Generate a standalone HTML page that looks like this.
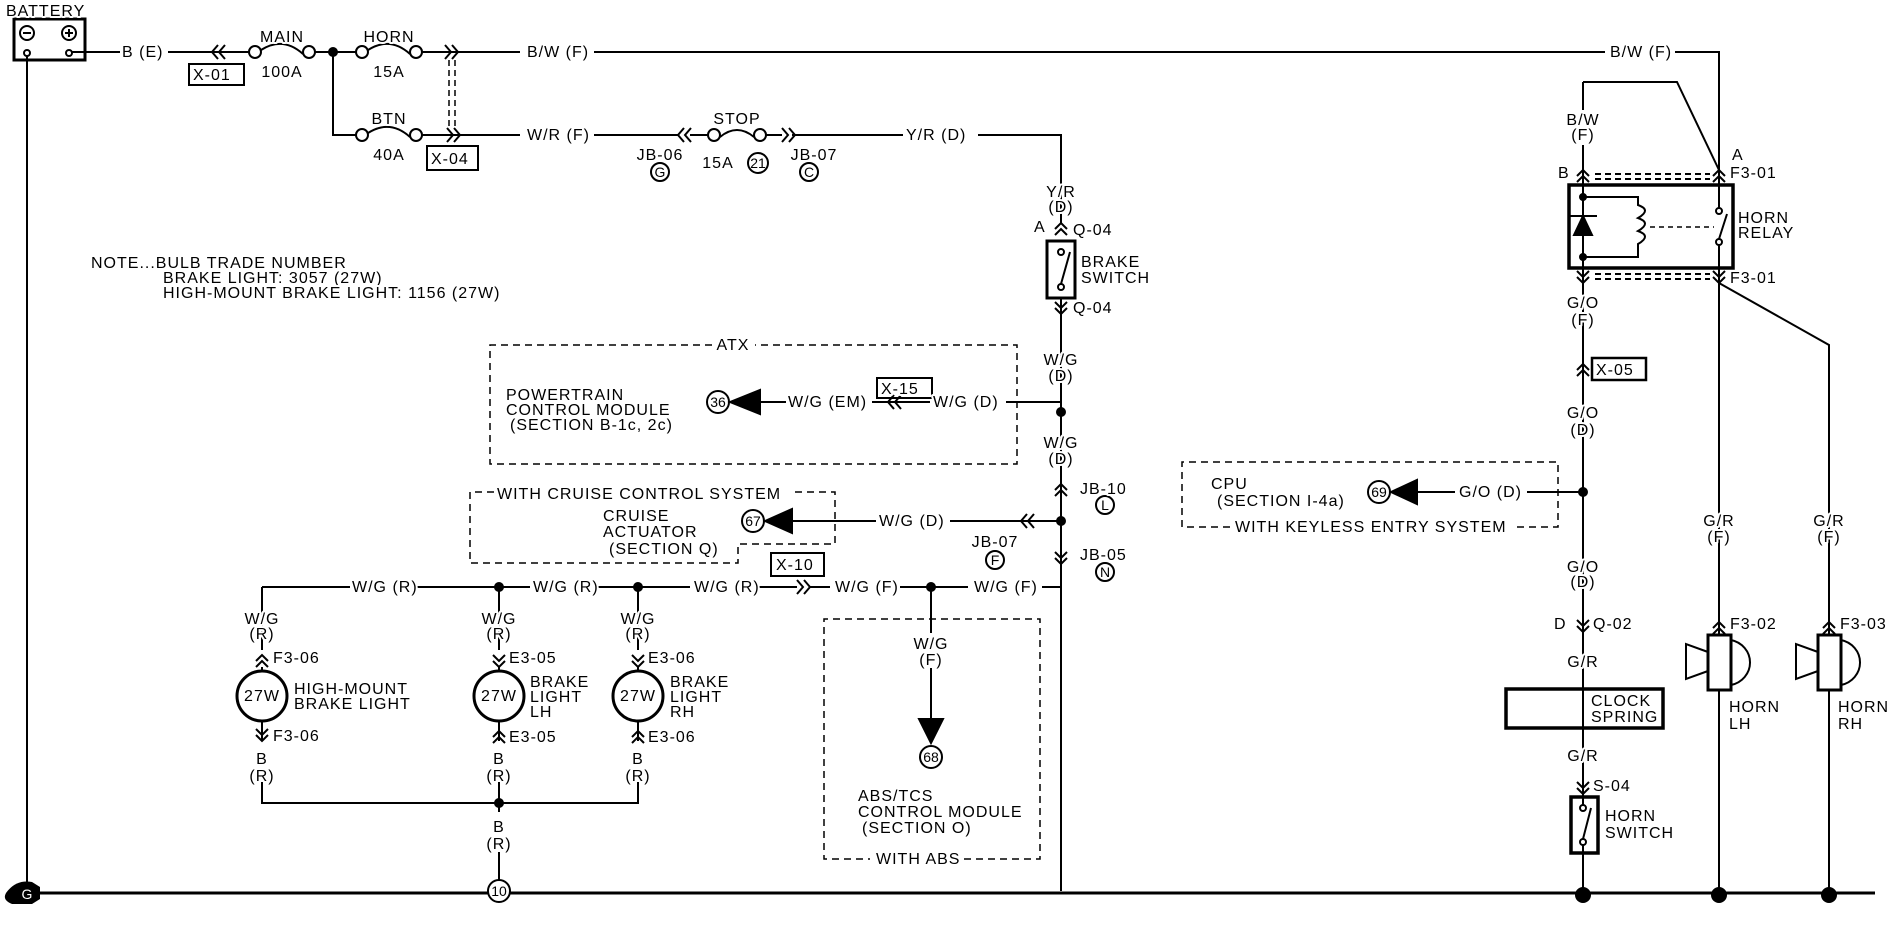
<!DOCTYPE html>
<html><head><meta charset="utf-8"><style>
html,body{margin:0;padding:0;background:#fff;}
svg{display:block;}
text{font-family:"Liberation Sans",sans-serif;font-size:16px;letter-spacing:1px;fill:#000;stroke:#fff;stroke-width:4px;paint-order:stroke;stroke-linejoin:round;}
.m{text-anchor:middle;}
.s{font-size:14px;letter-spacing:0;text-anchor:middle;stroke:none;}
</style></head><body>
<svg width="1898" height="928" viewBox="0 0 1898 928" xmlns="http://www.w3.org/2000/svg">
<g stroke="#000" stroke-width="2" fill="none">
<!-- battery -->
<rect x="14" y="19" width="71" height="41" stroke-width="3"/>
<circle cx="27" cy="33" r="7"/><circle cx="69" cy="33" r="7"/>
<circle cx="27" cy="53" r="3"/><circle cx="69" cy="53" r="3"/>
<path d="M23 33h8M65 33h8M69 29v8"/>
<path d="M27 56V893"/>
<path d="M27 893H1875" stroke-width="3"/>
<!-- top wire -->
<path d="M72 52H120M168 52H249M315 52H356M422 52H520M594 52H1605M1675 52H1719V893"/>
<path d="M218 45l-6 7 6 7M225 45l-6 7 6 7"/>
<rect x="189" y="64" width="55" height="21"/>
<circle cx="255" cy="52" r="6"/><circle cx="309" cy="52" r="6"/>
<path d="M261 50q22-14 42 4"/>
<circle cx="362" cy="52" r="6"/><circle cx="416" cy="52" r="6"/>
<path d="M368 50q22-14 42 4"/>
<circle cx="333" cy="52" r="4" fill="#000"/>
<path d="M445 45l6 7-6 7M452 45l6 7-6 7"/>
<path d="M449 60v70M455 60v70" stroke-dasharray="6,4" stroke-width="1.5"/>
<!-- branch -->
<path d="M333 52V135H356M422 135H520M594 135H678M690 135H708M766 135H782M792 135H903"/>
<circle cx="362" cy="135" r="6"/><circle cx="416" cy="135" r="6"/>
<path d="M368 133q22-14 42 4"/>
<path d="M447 128l6 7-6 7M454 128l6 7-6 7"/>
<rect x="427" y="146" width="51" height="24"/>
<path d="M684 128l-6 7 6 7M691 128l-6 7 6 7"/>
<circle cx="714" cy="135" r="6"/><circle cx="760" cy="135" r="6"/>
<path d="M720 137q17-14 34 0"/>
<path d="M782 128l6 7-6 7M789 128l6 7-6 7"/>
<circle cx="660" cy="172" r="9"/><circle cx="758" cy="163" r="10"/><circle cx="809" cy="172" r="9"/>
<path d="M978 135H1061V224M1061 298V891"/>
<!-- brake switch -->
<path d="M1055 229l6-6 6 6M1055 235l6-6 6 6"/>
<rect x="1047" y="241" width="28" height="57" stroke-width="3"/>
<circle cx="1061" cy="252" r="3"/><circle cx="1061" cy="287" r="3"/>
<path d="M1061 284L1070 252"/>
<path d="M1055 302l6 6 6-6M1055 308l6 6 6-6"/>
<!-- ATX -->
<path d="M712 345H490V464H1017V345H755" stroke-dasharray="7,5" stroke-width="1.5"/>
<circle cx="718" cy="402" r="11"/>
<path d="M730 402L760 390V414Z" fill="#000"/>
<path d="M760 402H786M872 402H930M1006 402H1061"/>
<path d="M894 395l-6 7 6 7M901 395l-6 7 6 7"/>
<rect x="877" y="378" width="55" height="20"/>
<circle cx="1061" cy="412" r="4" fill="#000"/>
<!-- cruise -->
<path d="M494 492H470V563H738V544H835V492H792" stroke-dasharray="7,5" stroke-width="1.5"/>
<circle cx="753" cy="521" r="11"/>
<path d="M765 521L792 509V533Z" fill="#000"/>
<path d="M792 521H876M950 521H1061"/>
<path d="M1027 514l-6 7 6 7M1034 514l-6 7 6 7"/>
<circle cx="1061" cy="521" r="4" fill="#000"/>
<path d="M1055 490l6-6 6 6M1055 496l6-6 6 6"/>
<path d="M1055 552l6 6 6-6M1055 558l6 6 6-6"/>
<circle cx="1105" cy="505" r="9"/><circle cx="995" cy="560" r="9"/><circle cx="1105" cy="572" r="9"/>
<!-- W/G bus -->
<path d="M1061 555V587H1042M968 587H900M830 587H810M797 587H758M690 587H598M530 587H415M350 587H262"/>
<path d="M262 587V650M499 587V650M638 587V650"/>
<path d="M797 580l6 7-6 7M804 580l6 7-6 7"/>
<rect x="771" y="553" width="53" height="23"/>
<circle cx="499" cy="587" r="4" fill="#000"/><circle cx="638" cy="587" r="4" fill="#000"/><circle cx="931" cy="587" r="4" fill="#000"/>
<!-- bulbs -->
<circle cx="262" cy="696" r="25" stroke-width="3"/><circle cx="499" cy="696" r="25" stroke-width="3"/><circle cx="638" cy="696" r="25" stroke-width="3"/>
<path d="M256 661l6-6 6 6M256 667l6-6 6 6M262 667V671"/>
<path d="M493 655l6 6 6-6M493 661l6 6 6-6M499 667V671"/>
<path d="M632 655l6 6 6-6M632 661l6 6 6-6M638 667V671"/>
<path d="M256 729l6 6 6-6M256 735l6 6 6-6M262 721V741"/>
<path d="M493 737l6-6 6 6M493 743l6-6 6 6M499 721V741"/>
<path d="M632 737l6-6 6 6M632 743l6-6 6 6M638 721V741"/>
<path d="M262 782V803H638V782M499 782V803V812M499 852V880"/>
<circle cx="499" cy="803" r="4" fill="#000"/>
<circle cx="499" cy="891" r="11" fill="#fff"/>
<!-- ABS -->
<path d="M931 587V633M931 668V719"/>
<path d="M940 859H1040V619H824V859H870" stroke-dasharray="7,5" stroke-width="1.5"/>
<path d="M919 719H943L931 743Z" fill="#000"/>
<circle cx="931" cy="757" r="11"/>
<!-- relay region -->
<path d="M1583 82H1677L1719 170M1583 82V110M1583 145V896"/>
<path d="M1577 176l6-6 6 6M1577 182l6-6 6 6M1713 176l6-6 6 6M1713 182l6-6 6 6"/>
<path d="M1595 174H1710M1595 179H1710" stroke-dasharray="6,4" stroke-width="2"/>
<rect x="1569" y="185" width="164" height="83" stroke-width="3.5" fill="#fff"/>
<path d="M1583 185V268"/>
<path d="M1583 197H1638V205q14 5 0 13q14 5 0 13q14 5 0 13v13H1583"/>
<path d="M1569 216H1597"/>
<path d="M1574 235L1583 216L1592 235Z" fill="#000"/>
<circle cx="1583" cy="197" r="3" fill="#000"/><circle cx="1583" cy="257" r="3" fill="#000"/>
<circle cx="1719" cy="211" r="3"/><circle cx="1719" cy="242" r="3"/>
<path d="M1719 170V208M1719 239L1727 214M1719 245V283"/>
<path d="M1650 227H1714" stroke-dasharray="5,4" stroke-width="1.5"/>
<path d="M1577 271l6 6 6-6M1577 277l6 6 6-6M1713 271l6 6 6-6M1713 277l6 6 6-6"/>
<path d="M1595 274H1710M1595 279H1710" stroke-dasharray="6,4" stroke-width="2"/>
<path d="M1719 283L1829 345V893"/>
<path d="M1577 370l6-6 6 6M1577 376l6-6 6 6"/>
<rect x="1592" y="358" width="54" height="22" stroke-width="2.5"/>
<!-- keyless -->
<path d="M1230 527H1182V462H1558V527H1512" stroke-dasharray="7,5" stroke-width="1.5"/>
<circle cx="1379" cy="492" r="11"/>
<path d="M1391 492L1417 480V504Z" fill="#000"/>
<path d="M1417 492H1455M1527 492H1583"/>
<circle cx="1583" cy="492" r="4" fill="#000"/>
<path d="M1577 620l6 6 6-6M1577 626l6 6 6-6"/>
<rect x="1506" y="689" width="157" height="39" stroke-width="3.5" fill="#fff"/>
<path d="M1583 689V728"/>
<path d="M1577 782l6 6 6-6M1577 788l6 6 6-6"/>
<rect x="1571" y="797" width="27" height="56" stroke-width="3.5" fill="#fff"/>
<circle cx="1583" cy="808" r="3"/><circle cx="1583" cy="842" r="3"/>
<path d="M1583 797V805M1583 845V853M1583 839L1591 808"/>
<!-- horns -->
<path d="M1713 628l6-6 6 6M1713 634l6-6 6 6M1823 628l6-6 6 6M1823 634l6-6 6 6"/>
<rect x="1708" y="635" width="23" height="55" stroke-width="3" fill="#fff"/>
<path d="M1731 640a24 23 0 0 1 0 45"/>
<path d="M1708 652L1686 644V679L1708 671"/>
<rect x="1818" y="635" width="23" height="55" stroke-width="3" fill="#fff"/>
<path d="M1841 640a24 23 0 0 1 0 45"/>
<path d="M1818 652L1796 644V679L1818 671"/>
</g>
<g fill="#000">
<circle cx="1583" cy="895" r="8"/><circle cx="1719" cy="895" r="8"/><circle cx="1829" cy="895" r="8"/>
<path d="M6 893q10-14 26-11l8 5v12l-8 5h-20q-10-4-6-11z"/>
</g>
<g>
<text x="6" y="16">BATTERY</text>
<text x="122" y="57">B (E)</text>
<text x="193" y="80">X-01</text>
<text x="282" y="42" class="m">MAIN</text><text x="282" y="77" class="m">100A</text>
<text x="389" y="42" class="m">HORN</text><text x="389" y="77" class="m">15A</text>
<text x="389" y="124" class="m">BTN</text><text x="389" y="160" class="m">40A</text>
<text x="431" y="164">X-04</text>
<text x="527" y="57">B/W (F)</text>
<text x="527" y="140">W/R (F)</text>
<text x="660" y="160" class="m">JB-06</text><text x="660" y="177" class="s">G</text>
<text x="737" y="124" class="m">STOP</text>
<text x="718" y="168" class="m">15A</text><text x="758" y="168" class="s">21</text>
<text x="814" y="160" class="m">JB-07</text><text x="809" y="177" class="s">C</text>
<text x="906" y="140">Y/R (D)</text>
<text x="1610" y="57">B/W (F)</text>
<text x="91" y="268">NOTE...BULB TRADE NUMBER</text>
<text x="163" y="283">BRAKE LIGHT: 3057 (27W)</text>
<text x="163" y="298">HIGH-MOUNT BRAKE LIGHT: 1156 (27W)</text>
<text x="1061" y="197" class="m">Y/R</text><text x="1061" y="212" class="m">(D)</text>
<text x="1034" y="232">A</text><text x="1073" y="235">Q-04</text>
<text x="1081" y="267">BRAKE</text><text x="1081" y="283">SWITCH</text>
<text x="1073" y="313">Q-04</text>
<text x="1061" y="365" class="m">W/G</text><text x="1061" y="381" class="m">(D)</text>
<text x="1061" y="448" class="m">W/G</text><text x="1061" y="464" class="m">(D)</text>
<text x="733" y="350" class="m">ATX</text>
<text x="506" y="400">POWERTRAIN</text>
<text x="506" y="415">CONTROL MODULE</text>
<text x="510" y="430">(SECTION B-1c, 2c)</text>
<text x="718" y="407" class="s">36</text>
<text x="788" y="407">W/G (EM)</text>
<text x="881" y="394">X-15</text>
<text x="933" y="407">W/G (D)</text>
<text x="497" y="499">WITH CRUISE CONTROL SYSTEM</text>
<text x="603" y="521">CRUISE</text><text x="603" y="537">ACTUATOR</text><text x="609" y="554">(SECTION Q)</text>
<text x="753" y="526" class="s">67</text>
<text x="879" y="526">W/G (D)</text>
<text x="1080" y="494">JB-10</text><text x="1105" y="510" class="s">L</text>
<text x="995" y="547" class="m">JB-07</text><text x="995" y="565" class="s">F</text>
<text x="1080" y="560">JB-05</text><text x="1105" y="577" class="s">N</text>
<text x="974" y="592">W/G (F)</text>
<text x="352" y="592">W/G (R)</text>
<text x="533" y="592">W/G (R)</text>
<text x="694" y="592">W/G (R)</text>
<text x="776" y="570">X-10</text>
<text x="835" y="592">W/G (F)</text>
<text x="262" y="624" class="m">W/G</text><text x="262" y="639" class="m">(R)</text>
<text x="499" y="624" class="m">W/G</text><text x="499" y="639" class="m">(R)</text>
<text x="638" y="624" class="m">W/G</text><text x="638" y="639" class="m">(R)</text>
<text x="273" y="663">F3-06</text><text x="509" y="663">E3-05</text><text x="648" y="663">E3-06</text>
<text x="262" y="701" class="m" style="stroke:none">27W</text><text x="499" y="701" class="m" style="stroke:none">27W</text><text x="638" y="701" class="m" style="stroke:none">27W</text>
<text x="294" y="694">HIGH-MOUNT</text><text x="294" y="709">BRAKE LIGHT</text>
<text x="530" y="687">BRAKE</text><text x="530" y="702">LIGHT</text><text x="530" y="717">LH</text>
<text x="670" y="687">BRAKE</text><text x="670" y="702">LIGHT</text><text x="670" y="717">RH</text>
<text x="273" y="741">F3-06</text><text x="509" y="742">E3-05</text><text x="648" y="742">E3-06</text>
<text x="262" y="764" class="m">B</text><text x="262" y="781" class="m">(R)</text>
<text x="499" y="764" class="m">B</text><text x="499" y="781" class="m">(R)</text>
<text x="638" y="764" class="m">B</text><text x="638" y="781" class="m">(R)</text>
<text x="499" y="832" class="m">B</text><text x="499" y="849" class="m">(R)</text>
<text x="499" y="896" class="s">10</text>
<text x="931" y="649" class="m">W/G</text><text x="931" y="665" class="m">(F)</text>
<text x="931" y="762" class="s">68</text>
<text x="858" y="801">ABS/TCS</text><text x="858" y="817">CONTROL MODULE</text><text x="862" y="833">(SECTION O)</text>
<text x="876" y="864">WITH ABS</text>
<text x="1583" y="125" class="m">B/W</text><text x="1583" y="140" class="m">(F)</text>
<text x="1558" y="178">B</text>
<text x="1732" y="160">A</text><text x="1730" y="178">F3-01</text>
<text x="1738" y="223">HORN</text><text x="1738" y="238">RELAY</text>
<text x="1730" y="283">F3-01</text>
<text x="1583" y="308" class="m">G/O</text><text x="1583" y="325" class="m">(F)</text>
<text x="1596" y="375">X-05</text>
<text x="1583" y="418" class="m">G/O</text><text x="1583" y="435" class="m">(D)</text>
<text x="1211" y="489">CPU</text><text x="1217" y="506">(SECTION I-4a)</text>
<text x="1379" y="497" class="s">69</text>
<text x="1459" y="497">G/O (D)</text>
<text x="1235" y="532">WITH KEYLESS ENTRY SYSTEM</text>
<text x="1719" y="526" class="m">G/R</text><text x="1719" y="542" class="m">(F)</text>
<text x="1829" y="526" class="m">G/R</text><text x="1829" y="542" class="m">(F)</text>
<text x="1583" y="572" class="m">G/O</text><text x="1583" y="587" class="m">(D)</text>
<text x="1554" y="629">D</text><text x="1593" y="629">Q-02</text>
<text x="1583" y="667" class="m">G/R</text>
<text x="1591" y="706" style="stroke:none">CLOCK</text><text x="1591" y="722" style="stroke:none">SPRING</text>
<text x="1583" y="761" class="m">G/R</text>
<text x="1593" y="791">S-04</text>
<text x="1605" y="821">HORN</text><text x="1605" y="838">SWITCH</text>
<text x="1730" y="629">F3-02</text><text x="1840" y="629">F3-03</text>
<text x="1729" y="712">HORN</text><text x="1729" y="729">LH</text>
<text x="1838" y="712">HORN</text><text x="1838" y="729">RH</text>
<text x="27" y="899" class="s" style="fill:#fff">G</text>
</g>
</svg>
</body></html>
